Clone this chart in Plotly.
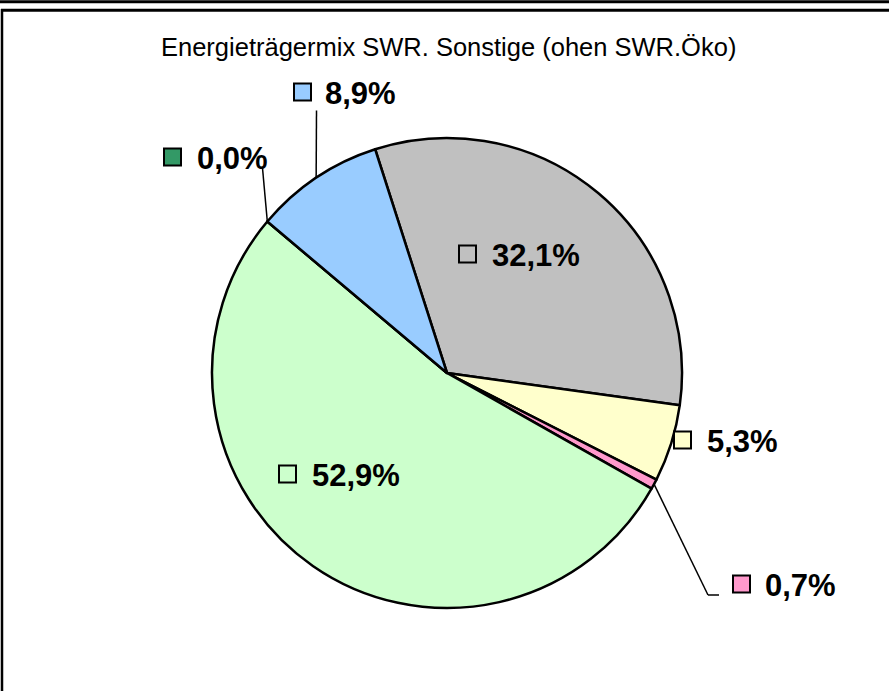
import math
import plotly.graph_objects as go

W, H = 889, 691

# ---- data ----
categories = ["Kernkraft", "Kohle", "Sonstige fossile", "Erdgas", "Sonstige Erneuerbare", "Erneuerbare (EEG)"]
shares = [32.1, 5.3, 0.7, 52.9, 0.0, 8.9]
share_labels = ["32,1%", "5,3%", "0,7%", "52,9%", "0,0%", "8,9%"]
colors = ["#C0C0C0", "#FFFFCC", "#FF99CC", "#CCFFCC", "#339966", "#99CCFF"]
title_text = "Energieträgermix SWR. Sonstige (ohen SWR.Öko)"

# ---- layout (pixels) ----
CX, CY, R = 447, 373, 235
ROT = -17.8
# label placement: (box_left, text_left, center_y, leader points from label side or None)
label_layout = [
    (459, 490, 255, None),
    (674, 705, 441, None),
    (733, 763, 585, [(719, 595), (708, 595)]),
    (279, 310, 475, None),
    (164, 195, 158, [(262.5, 168)]),
    (294, 323, 93, [(316.5, 110.5)]),
]
BOX = 17


def px(x):
    return x / W


def py(y):
    return 1 - y / H


fig = go.Figure(go.Pie(
    labels=categories,
    values=shares,
    sort=False,
    direction="clockwise",
    rotation=ROT,
    textinfo="none",
    hoverinfo="label+percent",
    marker=dict(colors=colors, line=dict(color="black", width=2.5)),
    domain=dict(x=[px(CX - R), px(CX + R)], y=[py(CY + R), py(CY - R)]),
    showlegend=False,
))

shapes = []
annotations = []
total = sum(shares)
cum = 0.0
for i, v in enumerate(shares):
    start = ROT + 360.0 * cum / total
    mid = math.radians(start + 180.0 * v / total)
    cum += v
    ex, ey = CX + R * math.sin(mid), CY - R * math.cos(mid)
    bx, tx, cy, leader = label_layout[i]
    # legend key box
    shapes.append(dict(type="rect", xref="paper", yref="paper",
                       x0=px(bx), x1=px(bx + BOX), y0=py(cy - BOX / 2 - 1), y1=py(cy + BOX / 2 - 1),
                       fillcolor=colors[i], line=dict(color="black", width=2)))
    annotations.append(dict(x=px(tx), y=py(cy), xref="paper", yref="paper",
                            xanchor="left", yanchor="middle", showarrow=False,
                            text="<b>" + share_labels[i] + "</b>",
                            font=dict(family="Liberation Sans, Arial, sans-serif", size=31, color="black")))
    if leader:
        pts = leader + [(ex, ey)]
        for (x0, y0), (x1, y1) in zip(pts[:-1], pts[1:]):
            shapes.append(dict(type="line", xref="paper", yref="paper",
                               x0=px(x0), y0=py(y0), x1=px(x1), y1=py(y1),
                               line=dict(color="black", width=1.5)))

# frame lines
shapes += [
    dict(type="line", xref="paper", yref="paper", x0=0, x1=1, y0=py(1.8), y1=py(1.8),
         line=dict(color="black", width=3)),
    dict(type="line", xref="paper", yref="paper", x0=px(1), x1=1, y0=py(10.3), y1=py(10.3),
         line=dict(color="black", width=3)),
    dict(type="line", xref="paper", yref="paper", x0=px(2), x1=px(2), y0=py(9), y1=0,
         line=dict(color="black", width=2.5)),
]

annotations.append(dict(x=px(449), y=py(47), xref="paper", yref="paper",
                        xanchor="center", yanchor="middle", showarrow=False,
                        text=title_text,
                        font=dict(family="Liberation Sans, Arial, sans-serif", size=25.5, color="black")))

fig.update_layout(
    width=W, height=H,
    margin=dict(l=0, r=0, t=0, b=0),
    paper_bgcolor="white", plot_bgcolor="white",
    shapes=shapes, annotations=annotations,
)

fig.write_html("out.html", config={"displayModeBar": False},
               post_script="document.body.style.margin='0';")
